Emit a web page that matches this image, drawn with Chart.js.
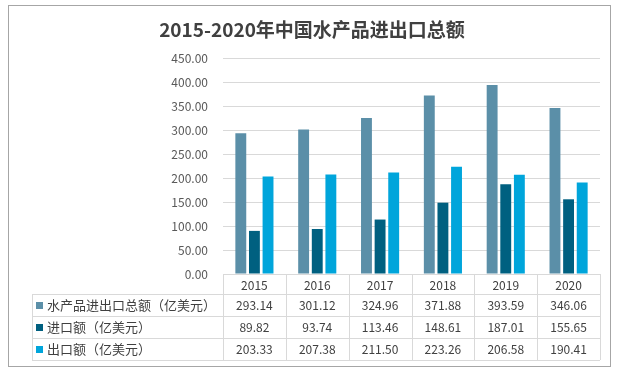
<!DOCTYPE html>
<html>
<head>
<meta charset="utf-8">
<script src="https://cdn.jsdelivr.net/npm/chart.js@4/dist/chart.umd.min.js"></script>
<style>
  html, body { margin: 0; padding: 0; background: #fff; }
  #wrap { width: 619px; height: 369px; position: relative; }
</style>
</head>
<body>
<div id="wrap"><canvas id="tradeChart" width="619" height="369"></canvas></div>
<script>
// Chart data
const chartTitle = '2015-2020年中国水产品进出口总额';
const years = ['2015', '2016', '2017', '2018', '2019', '2020'];
const seriesNames = ['水产品进出口总额（亿美元）', '进口额（亿美元）', '出口额（亿美元）'];
const totalValues = [293.14, 301.12, 324.96, 371.88, 393.59, 346.06];
const importValues = [89.82, 93.74, 113.46, 148.61, 187.01, 155.65];
const exportValues = [203.33, 207.38, 211.50, 223.26, 206.58, 190.41];
const seriesColors = ['#5B8FA8', '#006080', '#00A5DB'];

const FONT = '"Noto Sans CJK SC", "Noto Sans", sans-serif';
const gridColor = '#D9D9D9';
const textColor = '#404040';

// Draws frame, title and the data table under the plot
const tablePlugin = {
    id: 'dataTable',
    afterDraw(chart) {
        const ctx = chart.ctx;
        const area = chart.chartArea;
        const xScale = chart.scales.x;
        const labelLeft = 32;
        const rowH = 22;
        const headerBottom = area.bottom + 20;
        const tableBottom = headerBottom + rowH * 3;
        const n = years.length;
        const colW = (area.right - area.left) / n;

        ctx.save();
        // outer frame
        ctx.strokeStyle = '#A6A6A6';
        ctx.lineWidth = 1;
        ctx.strokeRect(8.5, 5.5, 602, 361);

        // title
        ctx.fillStyle = textColor;
        ctx.textAlign = 'center';
        ctx.textBaseline = 'middle';
        ctx.font = 'bold 19px ' + FONT;
        ctx.fillText(chartTitle, 312, 30);

        ctx.strokeStyle = gridColor;
        ctx.beginPath();
        // axis line
        ctx.moveTo(area.left, area.bottom + 0.5);
        ctx.lineTo(area.right, area.bottom + 0.5);
        // row lines
        for (let r = 0; r <= 3; r++) {
            const y = Math.round(headerBottom + r * rowH) + 0.5;
            ctx.moveTo(labelLeft, y);
            ctx.lineTo(area.right, y);
        }
        // column lines
        for (let i = 0; i <= n; i++) {
            const x = Math.round(area.left + i * colW) + 0.5;
            ctx.moveTo(x, area.bottom);
            ctx.lineTo(x, tableBottom);
        }
        ctx.moveTo(labelLeft + 0.5, headerBottom);
        ctx.lineTo(labelLeft + 0.5, tableBottom);
        ctx.stroke();

        ctx.fillStyle = textColor;
        ctx.textAlign = 'center';
        ctx.font = '12px ' + FONT;
        years.forEach((yr, i) => {
            ctx.fillText(yr, xScale.getPixelForValue(i), area.bottom + 11);
        });

        chart.data.datasets.forEach((ds, r) => {
            const yMid = headerBottom + r * rowH + rowH / 2 + 0.5;
            ctx.fillStyle = ds.backgroundColor;
            ctx.fillRect(36, Math.round(yMid - 3.5), 7, 7);
            ctx.fillStyle = textColor;
            ctx.textAlign = 'left';
            ctx.font = '13px ' + FONT;
            ctx.fillText(ds.label, 47, yMid);
            ctx.textAlign = 'center';
            ctx.font = '12px ' + FONT;
            ds.data.forEach((v, i) => {
                ctx.fillText(v.toFixed(2), xScale.getPixelForValue(i), yMid);
            });
        });
        ctx.restore();
    }
};

const ctx = document.getElementById('tradeChart').getContext('2d');
new Chart(ctx, {
    type: 'bar',
    data: {
        labels: years,
        datasets: [
            { label: seriesNames[0], data: totalValues, backgroundColor: seriesColors[0] },
            { label: seriesNames[1], data: importValues, backgroundColor: seriesColors[1] },
            { label: seriesNames[2], data: exportValues, backgroundColor: seriesColors[2] }
        ]
    },
    options: {
        responsive: false,
        animation: false,
        devicePixelRatio: 1,
        layout: { padding: { left: 0, right: 19, top: 58, bottom: 95 } },
        datasets: {
            bar: { categoryPercentage: 0.65, barPercentage: 0.8 }
        },
        plugins: {
            legend: { display: false },
            tooltip: { enabled: false },
            title: { display: false }
        },
        scales: {
            x: {
                grid: { display: false, drawTicks: false },
                border: { display: false },
                ticks: { display: false },
                afterFit(scale) { scale.height = 0; }
            },
            y: {
                min: 0,
                max: 450,
                grid: { color: gridColor, drawTicks: false },
                border: { display: false },
                ticks: {
                    stepSize: 50,
                    padding: 15,
                    color: '#595959',
                    font: { family: FONT, size: 12 },
                    callback: v => v.toFixed(2)
                },
                afterFit(scale) { scale.width = 223; }
            }
        }
    },
    plugins: [tablePlugin]
});
</script>
</body>
</html>
